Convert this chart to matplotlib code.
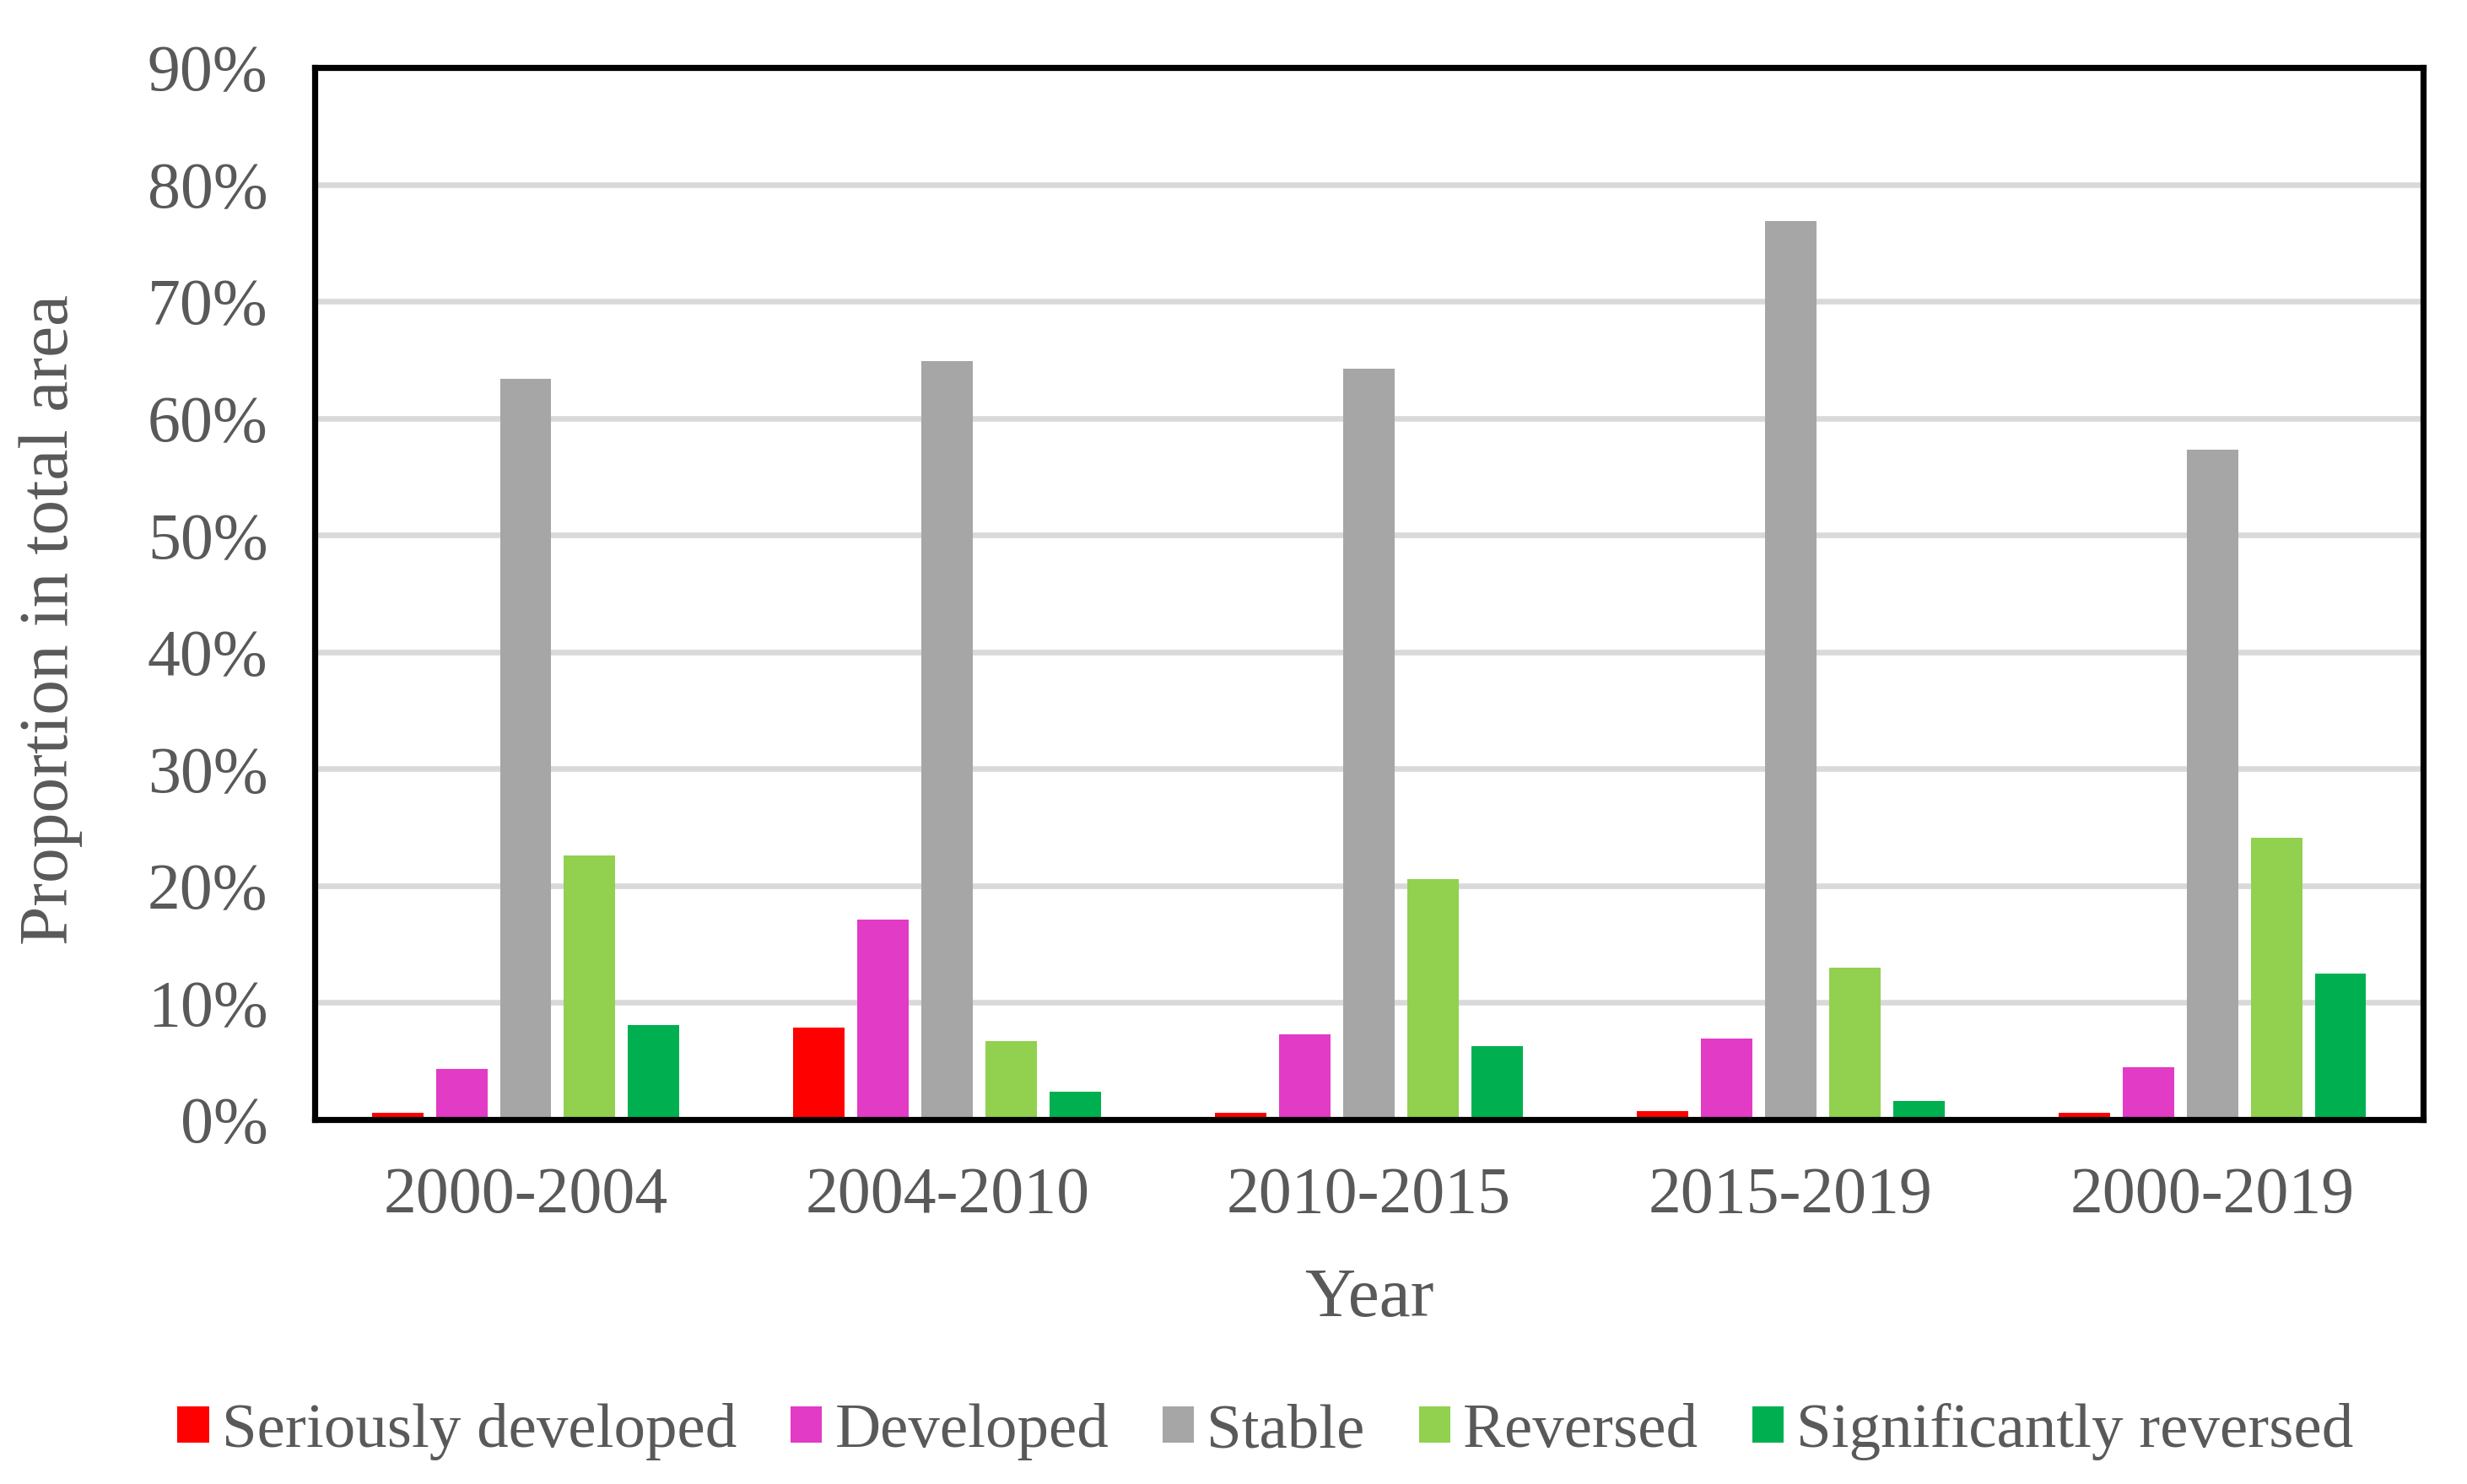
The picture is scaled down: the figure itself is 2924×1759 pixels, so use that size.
import matplotlib
matplotlib.use('Agg')
from matplotlib import pyplot as plt
from matplotlib.ticker import FuncFormatter
import numpy as np

plt.rcParams['font.family'] = ['Liberation Serif', 'DejaVu Serif']

# periods on x axis
years = ['2000-2004', '2004-2010', '2010-2015', '2015-2019', '2000-2019']
# classes, values in percent of total area
classes = ['Seriously developed', 'Developed', 'Stable', 'Reversed', 'Significantly reversed']
seriously_developed = [0.6, 7.9, 0.6, 0.7, 0.6]
developed = [4.3, 17.1, 7.3, 6.9, 4.5]
stable = [63.4, 64.9, 64.2, 76.9, 57.3]
reversed_ = [22.6, 6.7, 20.6, 13.0, 24.1]
significantly_reversed = [8.1, 2.4, 6.3, 1.6, 12.5]
yticks = [0, 10, 20, 30, 40, 50, 60, 70, 80, 90]

colors = ['#FF0000', '#E23BC5', '#A6A6A6', '#92D050', '#00B050']
series = [seriously_developed, developed, stable, reversed_, significantly_reversed]
txt = '#595959'

fig = plt.figure(figsize=(14.62, 8.795), dpi=200)
ax = fig.add_axes([0.1276, 0.2456, 0.8546, 0.7089])

x = np.arange(len(years))
step = 0.152
width = 0.122
for i, (vals, c, name) in enumerate(zip(series, colors, classes)):
    ax.bar(x + (i - 2) * step, np.array(vals) / 100, width, color=c, label=name, zorder=3)

ax.set_xlim(-0.5, len(years) - 0.5)
ax.set_ylim(0, 0.9)
ax.set_yticks(np.array(yticks) / 100)
ax.yaxis.set_major_formatter(FuncFormatter(lambda v, p: '%d%%' % round(v * 100)))
ax.set_xticks(x)
ax.set_xticklabels(years)

ax.grid(axis='y', color='#D9D9D9', linewidth=2.4, zorder=0)
ax.set_axisbelow(True)
for s in ax.spines.values():
    s.set_color('black')
    s.set_linewidth(2.6)
    s.set_zorder(5)

ax.tick_params(axis='both', length=0, labelsize=28, labelcolor=txt)
ax.tick_params(axis='x', pad=20)
ax.tick_params(axis='y', pad=20)

ax.set_ylabel('Proportion in total area', fontsize=30, color=txt)
ax.yaxis.label.set_va('center')
ax.yaxis.set_label_coords(-0.125, 0.475)
ax.set_xlabel('Year', fontsize=30, color=txt)
ax.xaxis.label.set_va('center')
ax.xaxis.set_label_coords(0.5, -0.171)

fig.legend(loc='center', bbox_to_anchor=(0.513, 0.035), ncol=5, frameon=False,
           fontsize=27, labelcolor=txt, handlelength=0.5, handleheight=0.5,
           handletextpad=0.2, columnspacing=0.85)

plt.savefig('out.png', dpi=200)
